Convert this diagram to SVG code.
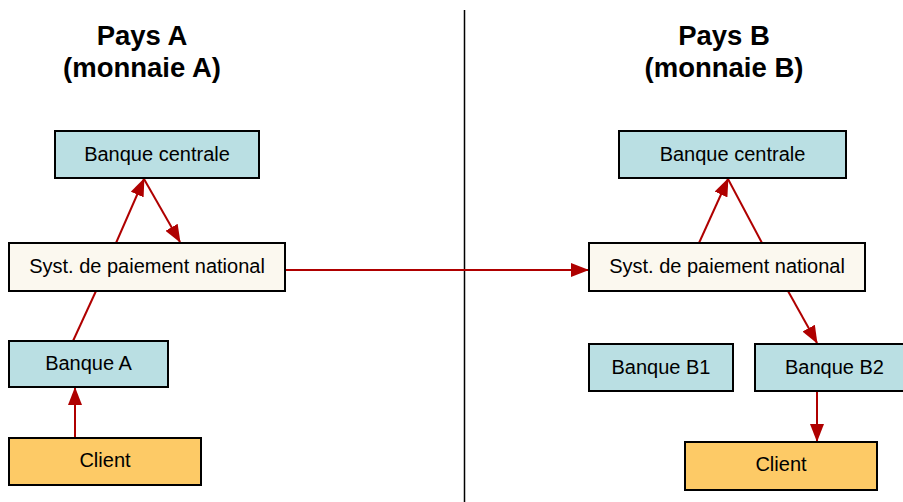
<svg xmlns="http://www.w3.org/2000/svg" width="903" height="502" viewBox="0 0 903 502">
<style>
.box{stroke:#000;stroke-width:2}
.blue{fill:#BADFE3}
.cream{fill:#FBF8EF}
.orange{fill:#FDCA66}
.lbl{font-family:"Liberation Sans",Arial,sans-serif;font-size:20px;fill:#000;text-anchor:middle}
.title{font-family:"Liberation Sans",Arial,sans-serif;font-size:27.5px;font-weight:bold;fill:#000;text-anchor:middle}
.conn{stroke:#AF0000;stroke-width:2;fill:none}
</style>
<defs>
<marker id="arr" markerUnits="userSpaceOnUse" markerWidth="18" markerHeight="14" viewBox="0 0 18 14" refX="17" refY="7" orient="auto">
<path d="M0,0 L18,7 L0,14 Z" fill="#AF0000"/>
</marker>
</defs>
<rect width="903" height="502" fill="#fff"/>
<g id="divider"><line x1="464.5" y1="10" x2="464.5" y2="502" stroke="#000" stroke-width="1.5"/></g>
<g id="titles">
<text class="title" x="142" y="45">Pays A</text>
<text class="title" x="142" y="77">(monnaie A)</text>
<text class="title" x="724" y="45">Pays B</text>
<text class="title" x="724" y="77">(monnaie B)</text>
</g>
<g id="connectors">
<line class="conn" x1="116" y1="243" x2="144" y2="179" marker-end="url(#arr)"/>
<line class="conn" x1="144" y1="179" x2="180" y2="242" marker-end="url(#arr)"/>
<line class="conn" x1="73" y1="341" x2="96" y2="291"/>
<line class="conn" x1="75" y1="438" x2="75" y2="388" marker-end="url(#arr)"/>
<line class="conn" x1="285" y1="270" x2="588" y2="270" marker-end="url(#arr)"/>
<line class="conn" x1="699" y1="243" x2="728" y2="179" marker-end="url(#arr)"/>
<line class="conn" x1="728" y1="179" x2="762" y2="243"/>
<line class="conn" x1="788" y1="291" x2="817" y2="343" marker-end="url(#arr)"/>
<line class="conn" x1="817" y1="391" x2="817" y2="441" marker-end="url(#arr)"/>
</g>
<g id="bc-a"><rect class="box blue" x="55" y="131" width="204" height="47"/><text class="lbl" x="157" y="161">Banque centrale</text></g>
<g id="sys-a"><rect class="box cream" x="9" y="243" width="276" height="48"/><text class="lbl" x="147" y="273">Syst. de paiement national</text></g>
<g id="banque-a"><rect class="box blue" x="9" y="341" width="159" height="46"/><text class="lbl" x="88.5" y="370">Banque A</text></g>
<g id="client-a"><rect class="box orange" x="9" y="438" width="192" height="47"/><text class="lbl" x="105" y="467">Client</text></g>
<g id="bc-b"><rect class="box blue" x="619" y="131" width="227" height="47"/><text class="lbl" x="732.5" y="161">Banque centrale</text></g>
<g id="sys-b"><rect class="box cream" x="589" y="243" width="276" height="48"/><text class="lbl" x="727" y="273">Syst. de paiement national</text></g>
<g id="banque-b1"><rect class="box blue" x="589" y="344" width="144" height="47"/><text class="lbl" x="661" y="374">Banque B1</text></g>
<g id="banque-b2"><rect class="box blue" x="755" y="344" width="152" height="47"/><text class="lbl" x="834.5" y="374">Banque B2</text></g>
<g id="client-b"><rect class="box orange" x="685" y="442" width="192" height="48"/><text class="lbl" x="781" y="471">Client</text></g>
</svg>
